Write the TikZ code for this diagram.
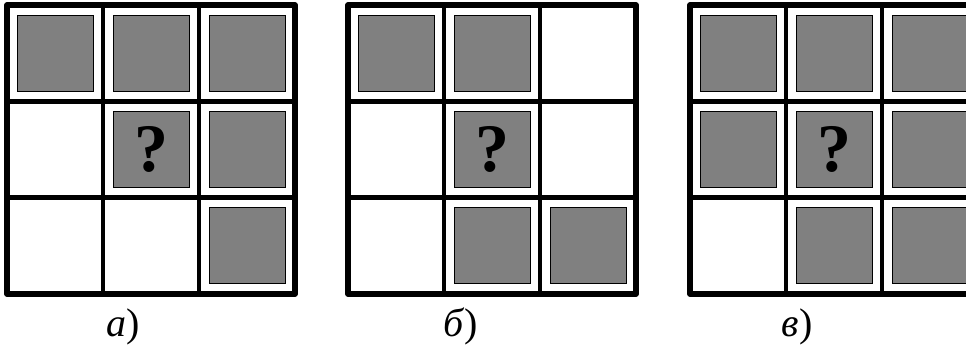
\documentclass[tikz,border=0pt]{standalone}
\usepackage{fontspec}
\setmainfont{Liberation Serif}
\usetikzlibrary{positioning}
\definecolor{tilegray}{RGB}{128,128,128}

\begin{document}
\begin{tikzpicture}[x=1pt, y=-1pt,
    frame/.style={line width=5.5pt, line join=round},
    sep/.style={line width=4.5pt},
    tile/.style={draw=black, line width=1pt, fill=tilegray, minimum size=76pt, inner sep=0pt},
    qmark/.style={font=\fontsize{68}{68}\selectfont\bfseries, inner sep=0pt},
    lbl/.style={font=\fontsize{40}{40}\selectfont, anchor=base}]
  \useasboundingbox (0,0) rectangle (966,347);
  % three puzzles: name / left edge / grey cells (column/row)
  \foreach \g/\ox/\tiles in {a/7/{1/1,2/1,3/1,2/2,3/2,3/3},
                             b/348/{1/1,2/1,2/2,2/3,3/3},
                             c/690/{1/1,2/1,3/1,1/2,2/2,3/2,2/3,3/3}} {
    \foreach \c/\r in \tiles
      \node[tile] (\g-\c-\r) at ({\ox+(\c-0.5)*96}, {5+(\r-0.5)*96.3}) {};
    \node[qmark] (q\g) at (\g-2-2) {?};
    \draw[sep] (\ox+96,5) -- (\ox+96,294)
               (\ox+192,5) -- (\ox+192,294)
               (\ox,101.3) -- (\ox+288,101.3)
               (\ox,197.6) -- (\ox+288,197.6);
    \draw[frame] (\ox,5) rectangle (\ox+288,294);
  }
  \node[lbl] (laba) at (123,336) {\textit{а})};
  \node[lbl] (labb) at (461,336) {\textit{б})};
  \node[lbl] (labc) at (797,336) {\textit{в})};
\end{tikzpicture}
\end{document}
